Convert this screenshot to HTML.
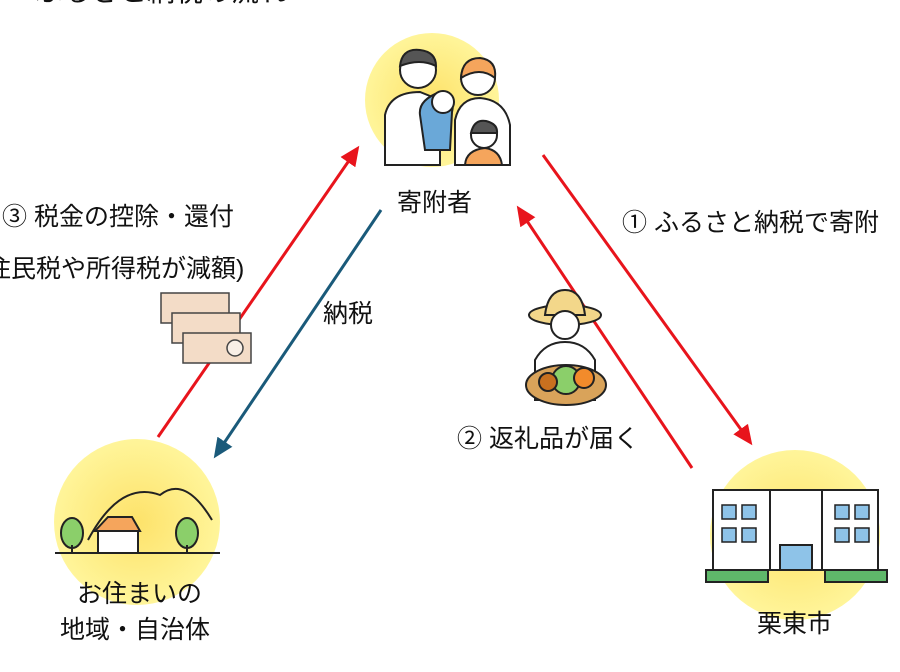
<!DOCTYPE html>
<html><head><meta charset="utf-8"><style>
body{margin:0;width:900px;height:672px;background:#fff;overflow:hidden;position:relative;font-family:"Liberation Sans","Noto Sans CJK JP",sans-serif;color:#111}
.t{position:absolute;font-size:24px;white-space:nowrap;line-height:1}
</style></head><body>
<svg width="900" height="672" style="position:absolute;left:0;top:0">
<defs>
<radialGradient id="g" cx="50%" cy="50%" r="50%"><stop offset="0" stop-color="#fde26a"/><stop offset="1" stop-color="#fff59a"/></radialGradient>
<marker id="r" markerWidth="20" markerHeight="18" refX="16" refY="9" orient="auto" markerUnits="userSpaceOnUse" viewBox="0 0 20 18"><path d="M0,0 L20,9 L0,18z" fill="#e8141c"/></marker>
<marker id="b" markerWidth="20" markerHeight="18" refX="16" refY="9" orient="auto" markerUnits="userSpaceOnUse" viewBox="0 0 20 18"><path d="M0,0 L20,9 L0,18z" fill="#1a5a7a"/></marker>
</defs>
<circle cx="432" cy="100" r="67" fill="url(#g)"/>
<circle cx="137" cy="522" r="83" fill="url(#g)"/>
<circle cx="795" cy="535" r="85" fill="url(#g)"/>
<g stroke-width="3">
<line x1="543" y1="155" x2="750" y2="442" stroke="#e8141c" marker-end="url(#r)"/>
<line x1="692" y1="468" x2="519" y2="209" stroke="#e8141c" marker-end="url(#r)"/>
<line x1="381" y1="210" x2="216" y2="455" stroke="#1a5a7a" marker-end="url(#b)"/>
<line x1="158" y1="437" x2="357" y2="149" stroke="#e8141c" marker-end="url(#r)"/>
</g>
<g stroke="#222" stroke-width="2">
<path d="M385 165 L385 115 Q390 92 420 92 L440 100 L440 165Z" fill="#fff"/>
<circle cx="418" cy="70" r="18" fill="#fff"/>
<path d="M400 66 Q402 48 420 50 Q436 52 436 66 Q420 58 400 66Z" fill="#555"/>
<path d="M455 165 L455 120 Q460 98 480 98 Q505 100 510 125 L510 165Z" fill="#fff"/>
<circle cx="478" cy="78" r="17" fill="#fff"/>
<path d="M461 78 Q462 58 480 58 Q497 60 495 78 Q480 66 461 78Z" fill="#f5a55c"/>
<path d="M420 115 Q418 100 440 92 Q456 96 452 112 L450 150 L425 150Z" fill="#6aa8d8"/>
<circle cx="443" cy="102" r="11" fill="#fff"/>
<path d="M465 165 Q466 150 485 148 Q500 150 502 165Z" fill="#f5a55c"/>
<circle cx="484" cy="135" r="13" fill="#fff"/>
<path d="M471 133 Q474 119 486 121 Q498 124 497 133Z" fill="#555"/>
</g>
<g stroke="#444" stroke-width="1.5" fill="#f3dcc7">
<rect x="161" y="293" width="68" height="30"/><rect x="172" y="313" width="68" height="30"/><rect x="183" y="333" width="68" height="30"/>
<circle cx="235" cy="348" r="8" fill="#f8efe6"/>
</g>
<g stroke="#222" stroke-width="2">
<ellipse cx="565" cy="315" rx="36" ry="10" fill="#f3d78a"/>
<path d="M545 315 Q548 290 565 290 Q582 290 585 315Z" fill="#f3d78a"/>
<circle cx="565" cy="325" r="14" fill="#fff"/>
<path d="M535 400 L535 360 Q545 342 565 342 Q585 342 595 360 L595 400Z" fill="#fff"/>
<ellipse cx="566" cy="385" rx="40" ry="20" fill="#d9a35a"/>
<circle cx="566" cy="380" r="14" fill="#8bcf6a"/><circle cx="548" cy="382" r="9" fill="#c8701f"/><circle cx="584" cy="378" r="10" fill="#f28b2b"/>
</g>
<g stroke="#222" stroke-width="2">
<path d="M88 540 Q120 480 160 495 Q185 475 212 520" fill="none"/>
<line x1="55" y1="553" x2="220" y2="553"/>
<path d="M95 531 L108 517 L132 517 L140 531Z" fill="#f5a55c"/>
<rect x="98" y="531" width="40" height="22" fill="#fff"/>
<ellipse cx="72" cy="533" rx="11" ry="15" fill="#8bcf6a"/><line x1="72" y1="545" x2="72" y2="553"/>
<ellipse cx="187" cy="533" rx="11" ry="15" fill="#8bcf6a"/><line x1="187" y1="545" x2="187" y2="553"/>
</g>
<g stroke="#222" stroke-width="2">
<rect x="713" y="490" width="165" height="80" fill="#fff"/>
<rect x="770" y="490" width="52" height="80" fill="#fff"/>
<rect x="780" y="545" width="32" height="25" fill="#8ec3e8"/>
<g fill="#8ec3e8" stroke-width="1.5">
<rect x="722" y="505" width="14" height="14"/><rect x="742" y="505" width="14" height="14"/><rect x="722" y="528" width="14" height="14"/><rect x="742" y="528" width="14" height="14"/>
<rect x="835" y="505" width="14" height="14"/><rect x="855" y="505" width="14" height="14"/><rect x="835" y="528" width="14" height="14"/><rect x="855" y="528" width="14" height="14"/>
</g>
<rect x="706" y="570" width="62" height="12" fill="#5fb86a"/><rect x="825" y="570" width="62" height="12" fill="#5fb86a"/>
</g>
</svg>
<div class="t" style="left:35px;top:-22px;font-size:28px">ふるさと納税の流れ</div>
<div class="t" style="left:397px;top:191px;font-size:25px">寄附者</div>
<div class="t" style="left:622px;top:211px;font-size:25px">① ふるさと納税で寄附</div>
<div class="t" style="left:2px;top:205px;font-size:25px">③ 税金の控除・還付</div>
<div class="t" style="left:-14px;top:257px;font-size:25px">住民税や所得税が減額)</div>
<div class="t" style="left:323px;top:302px;font-size:25px">納税</div>
<div class="t" style="left:457px;top:427px;font-size:25px">② 返礼品が届く</div>
<div class="t" style="left:77px;top:582px;font-size:25px">お住まいの</div>
<div class="t" style="left:60px;top:618px;font-size:25px">地域・自治体</div>
<div class="t" style="left:757px;top:612px;font-size:25px">栗東市</div>
</body></html>
